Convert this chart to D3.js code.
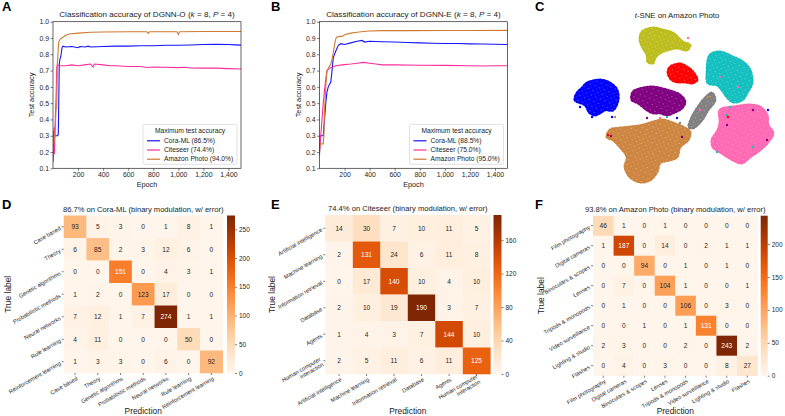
<!DOCTYPE html>
<html>
<head>
<meta charset="utf-8">
<script src="https://cdn.jsdelivr.net/npm/d3@7"></script>
<style>
  body { margin: 0; background: #fff; }
  text { font-family: "Liberation Sans", Arial, sans-serif; }
</style>
</head>
<body>
<script>
var FONT = "Liberation Sans, Arial, sans-serif";

// ---- panel A / B : test accuracy vs epoch ----
var epochTicks = [200, 400, 600, 800, 1000, 1200, 1400];
var accTicks = [0.1, 0.2, 0.3, 0.4, 0.5, 0.6, 0.7, 0.8, 0.9, 1.0];

var coraO = [[0,0.14],[3,0.3],[20,0.3],[38,0.3],[42,0.31],[46,0.5],[50,0.74],[55,0.77],[60,0.78],[65,0.8],[72,0.84],[80,0.85],[100,0.845],[150,0.848],[200,0.84],[215,0.848],[260,0.845],[280,0.85],[300,0.845],[400,0.848],[500,0.85],[600,0.85],[700,0.852],[800,0.852],[900,0.855],[1000,0.855],[1100,0.857],[1200,0.86],[1300,0.862],[1400,0.86],[1450,0.858],[1500,0.856]];
var citeO = [[0,0.2],[3,0.33],[6,0.18],[9,0.35],[12,0.19],[15,0.3],[20,0.45],[25,0.55],[30,0.72],[35,0.735],[50,0.73],[100,0.73],[150,0.735],[200,0.73],[250,0.735],[300,0.74],[320,0.722],[330,0.74],[400,0.735],[450,0.73],[500,0.73],[600,0.725],[700,0.725],[750,0.719],[800,0.722],[900,0.72],[1000,0.718],[1050,0.72],[1100,0.716],[1200,0.715],[1300,0.715],[1400,0.712],[1500,0.71]];
var amazonO = [[5,0.25],[15,0.3],[25,0.47],[30,0.47],[35,0.75],[45,0.87],[55,0.89],[70,0.9],[100,0.915],[130,0.925],[200,0.93],[300,0.935],[400,0.937],[600,0.938],[750,0.938],[760,0.928],[770,0.938],[990,0.938],[1000,0.922],[1010,0.938],[1200,0.94],[1500,0.94]];

var coraE = [[0,0.18],[5,0.3],[30,0.3],[40,0.4],[50,0.5],[60,0.57],[70,0.6],[90,0.63],[100,0.7],[110,0.78],[130,0.82],[150,0.855],[170,0.865],[200,0.86],[250,0.87],[300,0.88],[340,0.885],[360,0.875],[400,0.88],[500,0.877],[600,0.875],[700,0.872],[800,0.87],[900,0.868],[1000,0.866],[1100,0.866],[1200,0.864],[1300,0.863],[1400,0.862],[1500,0.86]];
var citeE = [[0,0.2],[10,0.3],[20,0.4],[30,0.5],[40,0.58],[50,0.65],[60,0.7],[80,0.715],[100,0.72],[130,0.73],[180,0.735],[250,0.74],[300,0.745],[350,0.75],[400,0.745],[450,0.74],[500,0.735],[600,0.735],[800,0.733],[1000,0.732],[1200,0.73],[1300,0.728],[1400,0.73],[1500,0.73]];
var amazonE = [[0,0.2],[5,0.25],[30,0.25],[35,0.3],[40,0.45],[50,0.6],[60,0.7],[75,0.72],[90,0.74],[100,0.77],[110,0.81],[125,0.88],[135,0.905],[160,0.91],[180,0.91],[200,0.92],[250,0.93],[300,0.935],[350,0.94],[400,0.943],[500,0.945],[700,0.945],[1000,0.946],[1200,0.946],[1500,0.947]];

var legendO = ["Cora-ML (86.5%)", "Citeseer (74.4%)", "Amazon Photo (94.0%)"];
var legendE = ["Cora-ML (88.5%)", "Citeseer (75.0%)", "Amazon Photo (95.0%)"];
var lineColors = ["#1414ff", "#ff2d9b", "#cf7a2e"];

// ---- panel C : t-SNE cluster outlines (t-SNE units) ----
var tsneOlive  = [[69,150],[80,154],[90,152],[100,149],[110,140],[117,137],[114,132],[104,134],[95,132],[87,129],[82,124],[80,119],[75,120],[74,127],[70,134],[67,142]];
var tsneRed    = [[97,115],[107,118],[114,115],[120,110],[124,102],[119,99],[112,100],[105,100],[99,102],[95,109]];
var tsneBlue   = [[14,99],[27,102],[37,99],[44,92],[45,82],[40,72],[32,72],[27,69],[22,67],[17,69],[12,77],[2,82],[4,89],[9,94]];
var tsnePurple = [[60,90],[70,94],[80,95],[94,92],[107,87],[112,80],[109,74],[100,69],[94,67],[87,69],[80,69],[74,72],[65,79],[59,82]];
var tsneCyan   = [[137,127],[147,130],[160,125],[170,120],[177,112],[179,99],[174,89],[169,82],[160,80],[154,85],[149,92],[144,97],[135,99],[134,109]];
var tsneGray   = [[139,89],[142,82],[135,72],[129,62],[120,54],[116,55],[119,65],[125,75],[132,84]];
var tsnePink   = [[147,72],[160,75],[177,77],[187,75],[194,67],[195,57],[200,49],[195,40],[187,32],[177,25],[169,19],[160,22],[147,30],[140,35],[139,42],[145,52],[147,60]];
var tsneBrown  = [[37,52],[47,54],[57,55],[70,57],[80,60],[90,62],[100,59],[110,55],[117,50],[115,42],[107,35],[104,25],[97,22],[87,19],[84,10],[77,2],[67,0],[57,5],[52,15],[54,25],[47,35],[40,42],[34,45]];
var tsneStray  = [[115,144,"pink"],[7,75,"blue"],[19,65,"blue"],[39,65,"blue"],[42,65,"brown"],[74,64,"purple"],[87,64,"pink"],[94,65,"cyan"],[104,64,"blue"],[107,59,"gray"],[35,47,"red"],[38,46,"purple"],[109,45,"purple"],[157,75,"cyan"],[167,82,"cyan"],[154,67,"cyan"],[165,95,"pink"],[147,105,"pink"],[154,57,"purple"],[180,72,"purple"],[194,42,"purple"],[155,65,"red"],[144,30,"cyan"],[180,35,"cyan"],[135,85,"brown"],[127,72,"pink"],[195,72,"blue"]];
var tsneColors = {olive:"#bdbd1e", red:"#ff0000", blue:"#0000ff", purple:"#800080", cyan:"#13bfbf", gray:"#808080", pink:"#ff69b4", brown:"#cd853f"};

// ---- panels D / E / F : confusion matrices ----
var coraLabels = ["Case based","Theory","Genetic algorithms","Probabilistic methods","Neural networks","Rule learning","Reinforcement learning"];
var coraMatrix = [
  [93,5,3,0,1,8,1],
  [6,85,2,3,12,6,0],
  [0,0,151,0,4,3,1],
  [1,2,0,123,17,0,0],
  [7,12,1,7,274,1,1],
  [4,11,0,0,0,50,0],
  [1,3,3,0,6,0,92]];
var coraTicks = [0,50,100,150,200,250];

var citeLabels = ["Artificial intelligence","Machine learning","Information retrieval","Database","Agents","Human computer\ninteraction"];
var citeMatrix = [
  [14,30,7,10,11,5],
  [2,131,24,6,11,8],
  [0,17,140,10,4,10],
  [2,10,19,190,3,7],
  [1,4,3,7,144,10],
  [2,5,11,6,11,125]];
var citeTicks = [0,40,80,120,160];

var photoLabels = ["Film photography","Digital cameras","Binoculars & scopes","Lenses","Tripods & monopods","Video surveillance","Lighting & studio","Flashes"];
var photoMatrix = [
  [46,1,0,1,0,0,0,0],
  [1,187,0,14,0,2,1,1],
  [0,0,94,0,1,0,1,0],
  [0,7,0,104,1,0,0,1],
  [0,1,0,0,106,0,3,0],
  [0,0,1,0,1,131,0,0],
  [2,3,0,0,2,0,243,2],
  [0,4,0,3,0,0,8,27]];
var photoTicks = [0,50,100,150,200];

var svg = d3.select("body").append("svg")
    .attr("width", 785)
    .attr("height", 416);

var defs = svg.append("defs");

function panelLetter(t, x, y) {
  svg.append("text").attr("x", x).attr("y", y)
    .attr("font-size", 13).attr("font-weight", "bold").style("fill", "#000").text(t);
}

function styleAxis(g, fs) {
  g.attr("font-family", FONT).attr("font-size", fs);
  g.selectAll("text").style("fill", "#262626");
  g.selectAll("line").attr("stroke", "#262626").attr("stroke-width", 0.6);
}

function accuracyPanel(opt) {
  var x = d3.scaleLinear().domain([0, 1500]).range([opt.x0, opt.x1]);
  var y = d3.scaleLinear().domain([0.1, 1.0]).range([opt.y1, opt.y0]);

  defs.append("clipPath").attr("id", opt.id)
    .append("rect").attr("x", opt.x0).attr("y", opt.y0)
    .attr("width", opt.x1 - opt.x0).attr("height", opt.y1 - opt.y0);

  var line = d3.line()
    .x(function (d) { return x(d[0]); })
    .y(function (d) { return y(d[1]); });

  var plot = svg.append("g").attr("clip-path", "url(#" + opt.id + ")");
  opt.series.forEach(function (s, i) {
    plot.append("path").datum(s)
      .attr("d", line)
      .attr("fill", "none")
      .attr("stroke", lineColors[i])
      .attr("stroke-width", 1.1);
  });

  var xa = svg.append("g").attr("transform", "translate(0," + opt.y1 + ")")
    .call(d3.axisBottom(x).tickValues(epochTicks).tickSize(2.5).tickPadding(1.5));
  xa.select(".domain").remove();
  styleAxis(xa, 6.9);

  var ya = svg.append("g").attr("transform", "translate(" + opt.x0 + ",0)")
    .call(d3.axisLeft(y).tickValues(accTicks).tickFormat(d3.format(".1f")).tickSize(2.5).tickPadding(1.5));
  ya.select(".domain").remove();
  styleAxis(ya, 6.9);

  svg.append("rect")
    .attr("x", opt.x0).attr("y", opt.y0)
    .attr("width", opt.x1 - opt.x0).attr("height", opt.y1 - opt.y0)
    .attr("fill", "none").attr("stroke", "#262626").attr("stroke-width", 0.7);

  var title = svg.append("text")
    .attr("x", (opt.x0 + opt.x1) / 2).attr("y", opt.y0 - 4.5)
    .attr("text-anchor", "middle").attr("font-size", 8.1).style("fill", "#222");
  title.append("tspan").text(opt.title + " (");
  title.append("tspan").attr("font-style", "italic").text("k");
  title.append("tspan").text(" = 8, ");
  title.append("tspan").attr("font-style", "italic").text("P");
  title.append("tspan").text(" = 4)");

  svg.append("text")
    .attr("transform", "translate(" + (opt.x0 - 19) + "," + ((opt.y0 + opt.y1) / 2) + ") rotate(-90)")
    .attr("text-anchor", "middle").attr("font-size", 7.3).style("fill", "#222").text("Test accuracy");
  svg.append("text")
    .attr("x", (opt.x0 + opt.x1) / 2).attr("y", opt.y1 + 18.5)
    .attr("text-anchor", "middle").attr("font-size", 7.3).style("fill", "#222").text("Epoch");

  // legend
  var lw = 94, lh = 40;
  var lx = opt.x1 - 4 - lw, ly = opt.y1 - 4 - lh;
  var lg = svg.append("g").attr("transform", "translate(" + lx + "," + ly + ")");
  lg.append("rect").attr("width", lw).attr("height", lh).attr("rx", 1.5)
    .attr("fill", "#fff").attr("fill-opacity", 0.9).attr("stroke", "#ccc").attr("stroke-width", 0.6);
  lg.append("text").attr("x", lw / 2).attr("y", 9).attr("text-anchor", "middle")
    .attr("font-size", 6.7).style("fill", "#222").text("Maximum test accuracy");
  opt.legend.forEach(function (t, i) {
    var yy = 16.5 + i * 9.2;
    lg.append("line").attr("x1", 4).attr("x2", 17).attr("y1", yy).attr("y2", yy)
      .attr("stroke", lineColors[i]).attr("stroke-width", 1.2);
    lg.append("text").attr("x", 21).attr("y", yy + 2.3).attr("font-size", 6.7).style("fill", "#222").text(t);
  });
}

accuracyPanel({id: "clipA", x0: 53, x1: 241, y0: 21.7, y1: 168.3,
  series: [coraO, citeO, amazonO], legend: legendO, title: "Classification accuracy of DGNN-O"});
accuracyPanel({id: "clipB", x0: 319.5, x1: 507.5, y0: 21.7, y1: 168.3,
  series: [coraE, citeE, amazonE], legend: legendE, title: "Classification accuracy of DGNN-E"});

// ---- t-SNE ----
var tx = d3.scaleLinear().domain([0, 200]).range([573, 773]);
var ty = d3.scaleLinear().domain([0, 155]).range([182, 27]);
var hull = d3.line()
  .x(function (d) { return tx(d[0]); })
  .y(function (d) { return ty(d[1]); })
  .curve(d3.curveCatmullRomClosed.alpha(0.5));

// speckle texture to mimic the dense scatter
var pat = defs.append("pattern").attr("id", "speckle")
  .attr("width", 5).attr("height", 5).attr("patternUnits", "userSpaceOnUse")
  .attr("patternTransform", "rotate(23)");
pat.append("circle").attr("cx", 1.2).attr("cy", 1.5).attr("r", 0.55).attr("fill", "#fff").attr("fill-opacity", 0.55);
pat.append("circle").attr("cx", 3.7).attr("cy", 3.9).attr("r", 0.45).attr("fill", "#fff").attr("fill-opacity", 0.45);

var clusters = [
  [tsneBrown, "brown"], [tsneOlive, "olive"], [tsneRed, "red"], [tsneBlue, "blue"],
  [tsnePurple, "purple"], [tsneCyan, "cyan"], [tsnePink, "pink"], [tsneGray, "gray"]];
clusters.forEach(function (c) {
  svg.append("path").datum(c[0])
    .attr("d", hull)
    .attr("fill", tsneColors[c[1]])
    .attr("stroke", tsneColors[c[1]])
    .attr("stroke-width", 2.8)
    .attr("stroke-dasharray", "1.4 2.1")
    .attr("stroke-linecap", "round");
  svg.append("path").datum(c[0])
    .attr("d", hull)
    .attr("fill", "url(#speckle)");
});
svg.selectAll(".stray").data(tsneStray).enter().append("circle")
  .attr("cx", function (d) { return tx(d[0]); })
  .attr("cy", function (d) { return ty(d[1]); })
  .attr("r", 1.2)
  .attr("fill", function (d) { return tsneColors[d[2]]; });

var tt = svg.append("text").attr("x", 677).attr("y", 18)
  .attr("text-anchor", "middle").attr("font-size", 7.8).style("fill", "#222");
tt.append("tspan").attr("font-style", "italic").text("t");
tt.append("tspan").text("-SNE on Amazon Photo");

// ---- confusion matrices ----
function luminance(c) {
  var rgb = d3.rgb(c);
  var f = function (v) { v /= 255; return v <= 0.03928 ? v / 12.92 : Math.pow((v + 0.055) / 1.055, 2.4); };
  return 0.2126 * f(rgb.r) + 0.7152 * f(rgb.g) + 0.0722 * f(rgb.b);
}

function multiline(sel) {
  sel.each(function () {
    var t = d3.select(this);
    var parts = t.text().split("\n");
    if (parts.length < 2) return;
    t.text(null);
    parts.forEach(function (p, i) {
      t.append("tspan").attr("x", 0).attr("dy", i === 0 ? "-0.25em" : "1.05em").text(p);
    });
  });
}

function confusionPanel(opt) {
  var n = opt.labels.length;
  var idx = d3.range(n);
  var x = d3.scaleBand().domain(idx).range([opt.x0, opt.x1]);
  var y = d3.scaleBand().domain(idx).range([opt.y0, opt.y1]);
  var vmax = d3.max(opt.matrix, function (r) { return d3.max(r); });
  var color = d3.scaleSequential(d3.interpolateOranges).domain([0, vmax]);

  var cells = [];
  opt.matrix.forEach(function (row, i) {
    row.forEach(function (v, j) { cells.push({i: i, j: j, v: v}); });
  });

  var g = svg.append("g");
  g.selectAll("rect").data(cells).enter().append("rect")
    .attr("x", function (d) { return x(d.j); })
    .attr("y", function (d) { return y(d.i); })
    .attr("width", x.bandwidth() + 0.3)
    .attr("height", y.bandwidth() + 0.3)
    .attr("fill", function (d) { return color(d.v); });
  g.selectAll("text").data(cells).enter().append("text")
    .attr("x", function (d) { return x(d.j) + x.bandwidth() / 2; })
    .attr("y", function (d) { return y(d.i) + y.bandwidth() / 2; })
    .attr("dy", "0.35em")
    .attr("text-anchor", "middle")
    .attr("font-size", 6.6)
    .style("fill", function (d) { return luminance(color(d.v)) > 0.38 ? "#262626" : "#fff"; })
    .text(function (d) { return d.v; });

  var ya = svg.append("g").attr("transform", "translate(" + opt.x0 + ",0)")
    .call(d3.axisLeft(y).tickSize(2).tickFormat(function (i) { return opt.labels[i]; }));
  ya.select(".domain").remove();
  styleAxis(ya, 5.7);
  ya.selectAll("text")
    .attr("x", 0).attr("y", 0).attr("dy", "0.35em")
    .attr("text-anchor", "end")
    .attr("transform", "translate(-3.5,1) rotate(-30)")
    .call(multiline);

  var xa = svg.append("g").attr("transform", "translate(0," + opt.y1 + ")")
    .call(d3.axisBottom(x).tickSize(2).tickFormat(function (i) { return opt.labels[i]; }));
  xa.select(".domain").remove();
  styleAxis(xa, 5.7);
  xa.selectAll("text")
    .attr("x", 0).attr("y", 0).attr("dy", "0.35em")
    .attr("text-anchor", "end")
    .attr("transform", "translate(2,5) rotate(-30)")
    .call(multiline);

  // colorbar
  var gid = "grad" + opt.id;
  var grad = defs.append("linearGradient").attr("id", gid)
    .attr("x1", 0).attr("y1", 1).attr("x2", 0).attr("y2", 0);
  d3.range(0, 1.001, 0.1).forEach(function (t) {
    grad.append("stop").attr("offset", t).attr("stop-color", d3.interpolateOranges(t));
  });
  svg.append("rect").attr("x", opt.cbx).attr("y", opt.y0)
    .attr("width", opt.cbw).attr("height", opt.y1 - opt.y0)
    .attr("fill", "url(#" + gid + ")");
  var cs = d3.scaleLinear().domain([0, vmax]).range([opt.y1, opt.y0]);
  var ca = svg.append("g").attr("transform", "translate(" + (opt.cbx + opt.cbw) + ",0)")
    .call(d3.axisRight(cs).tickValues(opt.ticks).tickSize(2).tickPadding(2));
  ca.select(".domain").remove();
  styleAxis(ca, 6.5);

  svg.append("text")
    .attr("x", (opt.x0 + opt.x1) / 2).attr("y", opt.y0 - 4)
    .attr("text-anchor", "middle").attr("font-size", 7.6).style("fill", "#222").text(opt.title);
  svg.append("text")
    .attr("x", (opt.x0 + opt.x1) / 2).attr("y", 414)
    .attr("text-anchor", "middle").attr("font-size", 8.4).style("fill", "#222").text("Prediction");
  svg.append("text")
    .attr("transform", "translate(" + opt.ylx + "," + ((opt.y0 + opt.y1) / 2) + ") rotate(-90)")
    .attr("text-anchor", "middle").attr("font-size", 8.4).style("fill", "#222").text("True label");
}

confusionPanel({id: "D", labels: coraLabels, matrix: coraMatrix, ticks: coraTicks,
  x0: 63.7, x1: 222.7, y0: 215.5, y1: 373, cbx: 227, cbw: 8, ylx: 11,
  title: "86.7% on Cora-ML (binary modulation, w/ error)"});
confusionPanel({id: "E", labels: citeLabels, matrix: citeMatrix, ticks: citeTicks,
  x0: 325.3, x1: 490.3, y0: 215, y1: 374, cbx: 493.5, cbw: 8, ylx: 275,
  title: "74.4% on Citeseer (binary modulation, w/ error)"});
confusionPanel({id: "F", labels: photoLabels, matrix: photoMatrix, ticks: photoTicks,
  x0: 593, x1: 757.6, y0: 215.7, y1: 375.7, cbx: 760.7, cbw: 7, ylx: 544,
  title: "93.8% on Amazon Photo (binary modulation, w/ error)"});

panelLetter("A", 2, 11);
panelLetter("B", 271, 11);
panelLetter("C", 535, 11);
panelLetter("D", 2, 209);
panelLetter("E", 271, 209);
panelLetter("F", 535, 209);
</script>
</body>
</html>
